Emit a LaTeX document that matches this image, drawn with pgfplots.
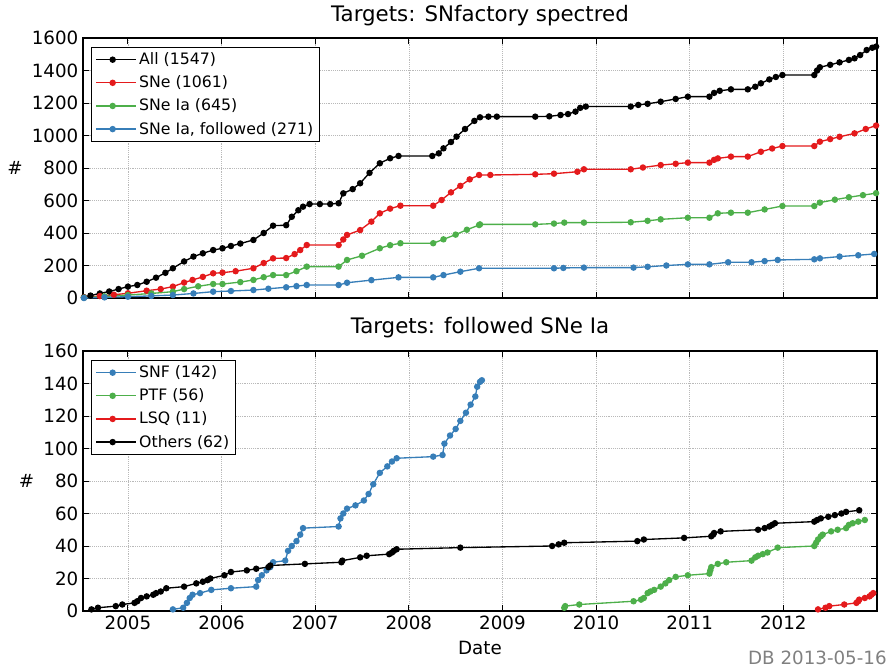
\documentclass[border=0pt]{standalone}
\usepackage{fontspec}
\setmainfont{DejaVu Sans}
\usepackage{pgfplots}
\pgfplotsset{compat=1.18}

\definecolor{cred}{HTML}{E41A1C}
\definecolor{cgreen}{HTML}{4DAF4A}
\definecolor{cblue}{HTML}{377EB8}
\definecolor{cgray}{HTML}{808080}

\pgfplotsset{
  snpanel/.style={
    scale only axis,
    width=595.5pt, height=195pt,
    xmin=2004.52, xmax=2013.0,
    xtick={2005,2006,2007,2008,2009,2010,2011,2012},
    grid=major,
    major grid style={densely dotted, gray!55, line width=0.5pt},
    axis line style={line width=0.9pt},
    major tick length=4.5pt,
    tick style={black, line width=0.7pt},
    tick label style={font=\fontsize{13.7}{16}\selectfont},
    /pgf/number format/1000 sep={},
    /pgf/number format/assume math mode=true,
    label style={font=\fontsize{13.7}{16}\selectfont},
    ylabel={\#},
    ylabel style={rotate=-90},
    legend cell align=left,
    legend style={font=\fontsize{11.8}{14}\selectfont,
      at={(0.01,0.965)}, anchor=north west,
      draw=black, line width=0.8pt, fill=white,
      inner xsep=3pt, inner ysep=2pt,
      nodes={inner sep=1.8pt}, row sep=3.3pt},
    legend image code/.code={
      \draw[##1,mark=none] (0pt,0pt) -- (24.75pt,0pt);
      \draw[##1] plot coordinates {(12.4pt,0pt)};
      \path (24.75pt,0pt) -- (30pt,0pt);
    },
    every axis plot/.append style={line width=1pt, mark=*, mark size=1.9pt},
  },
}

\begin{document}
\begin{tikzpicture}
\begin{axis}[snpanel, name=top,
  ymin=0, ymax=1600, ytick={0,200,...,1600},
  xticklabels={},
  title={Targets: SNfactory spectred},
  title style={font=\fontsize{16}{19}\selectfont, at={(0.5,1)}, anchor=base, yshift=6pt},
]
\addplot[black] coordinates {
(2004.53,5)(2004.6,15)(2004.7,28)(2004.8,40)(2004.9,55)(2005.0,70)(2005.1,80)(2005.2,100)
(2005.3,125)(2005.4,155)(2005.48,183)(2005.6,225)(2005.7,255)(2005.8,275)(2005.91,295)
(2006.01,306)(2006.1,320)(2006.2,335)(2006.34,357)(2006.45,400)(2006.55,445)(2006.69,448)
(2006.75,500)(2006.82,540)(2006.87,562)(2006.94,578)(2007.05,578)(2007.16,578)(2007.25,583)
(2007.30,644)(2007.4,670)(2007.48,706)(2007.58,770)(2007.69,829)(2007.8,860)(2007.89,874)
(2008.25,874)(2008.32,890)(2008.37,921)(2008.45,960)(2008.51,993)(2008.6,1040)(2008.7,1090)
(2008.76,1112)(2008.85,1116)(2008.94,1116)(2009.35,1116)(2009.5,1118)(2009.62,1126)
(2009.7,1132)(2009.78,1147)(2009.83,1170)(2009.89,1178)(2010.37,1178)(2010.45,1188)
(2010.55,1195)(2010.69,1208)(2010.85,1225)(2010.98,1239)(2011.21,1239)(2011.26,1262)
(2011.32,1275)(2011.44,1284)(2011.62,1284)(2011.7,1300)(2011.76,1321)(2011.85,1345)
(2011.92,1360)(2011.99,1372)(2012.33,1372)(2012.36,1400)(2012.39,1420)(2012.5,1435)
(2012.6,1450)(2012.7,1465)(2012.76,1475)(2012.82,1495)(2012.89,1526)(2012.95,1540)(2012.99,1547)
};
\addlegendentry{All (1547)}
\addplot[cred] coordinates {
(2004.53,3)(2004.7,12)(2004.85,20)(2005.0,29)(2005.2,45)(2005.35,55)(2005.48,70)(2005.6,95)
(2005.69,111)(2005.8,130)(2005.91,152)(2006.01,156)(2006.15,165)(2006.34,183)(2006.45,215)
(2006.55,244)(2006.69,246)(2006.78,270)(2006.84,295)(2006.91,326)(2007.25,326)(2007.3,360)
(2007.34,388)(2007.48,418)(2007.6,470)(2007.69,521)(2007.8,550)(2007.91,568)(2008.26,568)
(2008.35,603)(2008.45,650)(2008.55,690)(2008.65,730)(2008.75,757)(2008.87,757)(2009.35,761)
(2009.55,765)(2009.80,777)(2009.87,792)(2010.37,792)(2010.5,803)(2010.69,818)(2010.85,826)
(2010.98,833)(2011.21,833)(2011.26,850)(2011.30,859)(2011.44,870)(2011.62,870)(2011.76,900)
(2011.88,920)(2011.99,935)(2012.33,935)(2012.39,962)(2012.5,978)(2012.6,992)(2012.76,1013)
(2012.88,1040)(2012.99,1061)
};
\addlegendentry{SNe (1061)}
\addplot[cgreen] coordinates {
(2004.53,2)(2004.75,10)(2005.0,18)(2005.25,28)(2005.48,39)(2005.6,55)(2005.75,72)(2005.91,86)
(2006.01,86)(2006.2,98)(2006.34,111)(2006.45,128)(2006.55,141)(2006.69,141)(2006.8,165)
(2006.91,193)(2007.25,193)(2007.34,234)(2007.5,260)(2007.69,306)(2007.8,325)(2007.91,337)
(2008.26,337)(2008.37,361)(2008.5,390)(2008.62,420)(2008.75,449)(2008.76,453)(2009.35,453)
(2009.55,458)(2009.66,464)(2009.87,464)(2010.37,466)(2010.55,475)(2010.69,484)(2010.98,494)
(2011.21,494)(2011.30,521)(2011.44,525)(2011.62,525)(2011.8,545)(2011.99,566)(2012.33,566)
(2012.39,587)(2012.55,605)(2012.7,620)(2012.85,633)(2012.99,645)
};
\addlegendentry{SNe Ia (645)}
\addplot[cblue] coordinates {
(2004.53,0)(2004.75,4)(2005.0,8)(2005.25,13)(2005.48,18)(2005.7,28)(2005.91,39)(2006.1,43)
(2006.34,49)(2006.5,57)(2006.69,66)(2006.8,73)(2006.91,80)(2007.25,80)(2007.34,94)(2007.6,110)
(2007.89,127)(2008.26,127)(2008.37,141)(2008.55,162)(2008.75,183)(2009.55,183)(2009.65,185)
(2009.87,187)(2010.40,187)(2010.55,192)(2010.75,200)(2010.98,207)(2011.21,207)(2011.41,220)
(2011.66,220)(2011.8,227)(2011.94,234)(2012.33,238)(2012.39,244)(2012.6,255)(2012.8,263)
(2012.97,271)
};
\addlegendentry{SNe Ia, followed (271)}
\end{axis}

\begin{axis}[snpanel, name=bot,
  at={(top.south west)}, anchor=north west, yshift=-39.75pt,
  ymin=0, ymax=160, ytick={0,20,...,160},
  xticklabels={2005,2006,2007,2008,2009,2010,2011,2012},
  xlabel={Date},
  xlabel style={at={(0.5,0)}, anchor=base, yshift=-32.25pt},
  title={Targets: followed SNe Ia},
  title style={font=\fontsize{16}{19}\selectfont, at={(0.5,1)}, anchor=base, yshift=7.5pt},
]
\addplot[cblue] coordinates {
(2005.48,1)(2005.59,2)(2005.63,5)(2005.66,8)(2005.69,10)(2005.77,11)(2005.89,13)(2006.10,14)
(2006.37,15)(2006.39,19)(2006.43,22)(2006.48,25)(2006.52,27)(2006.55,30)(2006.68,31)(2006.71,37)
(2006.75,40)(2006.80,43)(2006.84,47)(2006.87,51)(2007.25,52)(2007.27,57)(2007.3,60)(2007.34,63)
(2007.43,65)(2007.52,68)(2007.57,72)(2007.62,78)(2007.69,85)(2007.77,89)(2007.82,92)(2007.87,94)
(2008.26,95)(2008.36,96)(2008.38,103)(2008.44,108)(2008.50,112)(2008.55,117)(2008.61,122)
(2008.66,127)(2008.71,132)(2008.73,138)(2008.76,141)(2008.78,142)
};
\addlegendentry{SNF (142)}
\addplot[cgreen] coordinates {
(2009.66,2)(2009.67,3)(2009.82,4)(2010.40,6)(2010.48,7)(2010.51,8)(2010.55,11)(2010.58,12)
(2010.62,13)(2010.69,15)(2010.74,17)(2010.78,19)(2010.85,21)(2010.98,22)(2011.21,23)(2011.22,25)
(2011.23,27)(2011.30,29)(2011.39,30)(2011.66,31)(2011.70,33)(2011.73,34)(2011.78,35)(2011.83,36)
(2011.94,39)(2012.33,40)(2012.35,42)(2012.37,44)(2012.40,46)(2012.42,47)(2012.51,49)(2012.58,50)
(2012.67,51)(2012.70,53)(2012.74,54)(2012.80,55)(2012.87,56)
};
\addlegendentry{PTF (56)}
\addplot[cred] coordinates {
(2012.37,1)(2012.45,2)(2012.49,3)(2012.65,4)(2012.78,5)(2012.80,6)(2012.81,7)(2012.87,8)
(2012.92,9)(2012.94,10)(2012.96,11)
};
\addlegendentry{LSQ (11)}
\addplot[black] coordinates {
(2004.61,1)(2004.68,2)(2004.87,3)(2004.94,4)(2005.07,5)(2005.1,6)(2005.14,8)(2005.2,9)(2005.27,10)
(2005.30,11)(2005.35,12)(2005.41,14)(2005.60,15)(2005.73,17)(2005.80,18)(2005.85,19)(2005.88,20)
(2006.03,22)(2006.10,24)(2006.27,25)(2006.37,26)(2006.50,27)(2006.52,28)(2006.89,29)(2007.28,30)
(2007.29,31)(2007.48,33)(2007.55,34)(2007.79,35)(2007.82,36)(2007.84,37)(2007.87,38)(2008.55,39)
(2009.53,40)(2009.60,41)(2009.66,42)(2010.44,43)(2010.51,44)(2010.94,45)(2011.23,46)(2011.25,47)
(2011.26,48)(2011.33,49)(2011.73,50)(2011.80,51)(2011.85,52)(2011.88,53)(2011.91,54)(2012.33,55)
(2012.36,56)(2012.40,57)(2012.48,58)(2012.55,59)(2012.62,60)(2012.67,61)(2012.81,62)
};
\addlegendentry{Others (62)}
\end{axis}

\node[anchor=base east, inner sep=0pt, text=cgray, font=\fontsize{13.7}{16}\selectfont]
  at ([xshift=7.5pt, yshift=-40.2pt]bot.south east) {DB 2013-05-16};

\pgfresetboundingbox
\path ([xshift=-62.25pt, yshift=28.5pt]top.north west) rectangle ++(667.5pt,-501pt);
\end{tikzpicture}
\end{document}
